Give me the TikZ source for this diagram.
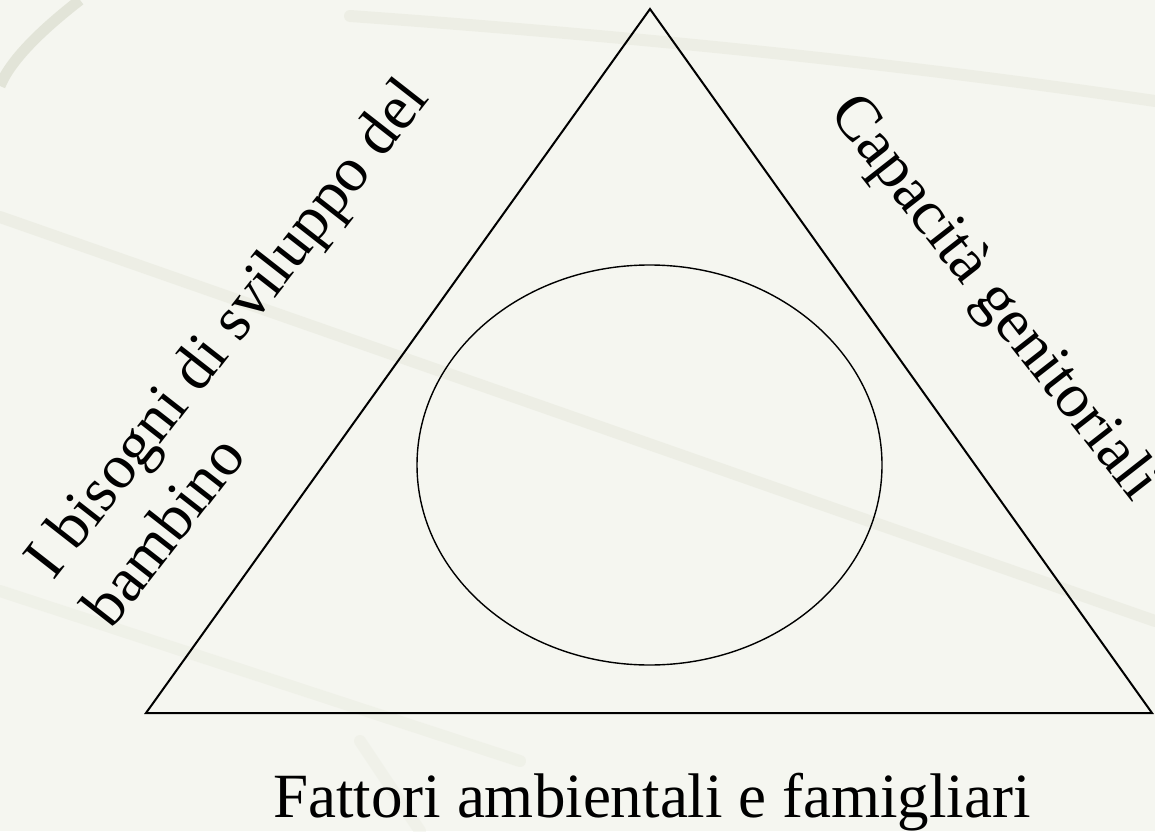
\documentclass[tikz,border=0pt]{standalone}
\usepackage{fontspec}
\setmainfont{Liberation Serif}
\usetikzlibrary{shapes.geometric}
\definecolor{paper}{RGB}{245,246,240}
\definecolor{streak}{RGB}{230,232,219}
\definecolor{curl}{RGB}{222,224,210}
\tikzset{
  edge/.style={line width=2pt, line join=miter, black},
  core/.style={draw, ellipse, line width=1.4pt, inner sep=0pt, minimum width=465pt, minimum height=400pt},
  label/.style={inner sep=0pt, font=\fontsize{63}{63}\selectfont},
  streakline/.style={streak, line width=12pt, line cap=round, opacity=0.5},
}
\begin{document}
\begin{tikzpicture}[x=1pt,y=1pt]
  \useasboundingbox (0,0) rectangle (1155,831);
  \fill[paper] (0,0) rectangle (1155,831);
  % background texture
  \draw[curl, line width=11pt, opacity=0.8] (80,831) .. controls (40,800) and (10,770) .. (0,745);
  \draw[streakline] (0,614) -- (1155,210);
  \draw[streakline] (350,815) .. controls (700,790) and (950,760) .. (1155,730);
  \draw[streakline, opacity=0.35] (0,240) -- (520,70);
  \draw[streakline, opacity=0.3] (360,90) -- (420,0);
  % triangle
  \coordinate (A) at (650,822);
  \coordinate (B) at (146,118);
  \coordinate (C) at (1152,118);
  \draw[edge] (A) -- (B) -- (C) -- cycle;
  % inner ellipse
  \node[core] (E) at (649.5,366) {};
  % left label
  \begin{scope}[shift={(53,249)}, rotate=52, transform shape]
    \node[label, anchor=base west] (L1) at (0,0) {I bisogni di sviluppo del};
    \node[label, anchor=base west] (L2) at (-2,-76) {bambino};
  \end{scope}
  % right label
  \begin{scope}[shift={(828,718)}, rotate=-52, transform shape]
    \node[label, anchor=base west] (R) at (0,0) {Capacità genitoriali};
  \end{scope}
  % bottom label
  \node[label, anchor=base] (F) at (652,14) {Fattori ambientali e famigliari};
\end{tikzpicture}
\end{document}
